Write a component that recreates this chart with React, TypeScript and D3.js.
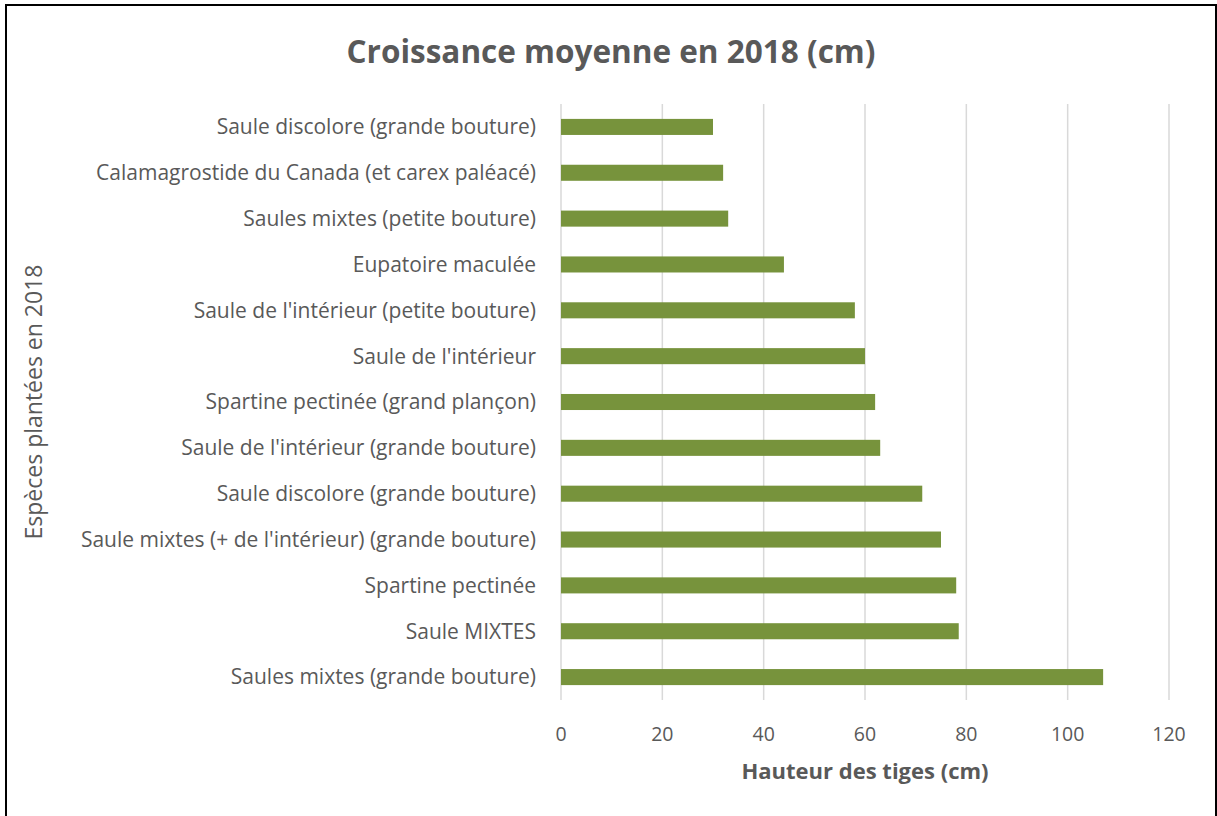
import { useEffect, useRef } from 'react';
import * as d3 from 'd3';

// categories from top to bottom, as shown
const species = [
  "Saule discolore (grande bouture)",
  "Calamagrostide du Canada (et carex paléacé)",
  "Saules mixtes (petite bouture)",
  "Eupatoire maculée",
  "Saule de l'intérieur (petite bouture)",
  "Saule de l'intérieur",
  "Spartine pectinée (grand plançon)",
  "Saule de l'intérieur (grande bouture)",
  "Saule discolore (grande bouture) ",
  "Saule mixtes (+ de l'intérieur) (grande bouture)",
  "Spartine pectinée",
  "Saule MIXTES ",
  "Saules mixtes (grande bouture)",
];
const growth = [30, 32, 33, 44, 58, 60, 62, 63, 71.3, 75, 78, 78.5, 107];
const xTicks = [0, 20, 40, 60, 80, 100, 120];

const W = 1217, H = 816;
const FONT = '"Open Sans", sans-serif';
const TEXT = '#595959';

const App = () => {
  const ref = useRef<SVGSVGElement>(null);

  useEffect(() => {
    const svg = d3.select(ref.current);
    svg.selectAll('*').remove();

    const margin = { top: 104, left: 561, right: 48, bottom: 116 };
    const x = d3.scaleLinear().domain([0, 120]).range([margin.left, W - margin.right]);
    const y = d3.scaleBand<string>().domain(species).range([margin.top, H - margin.bottom]).paddingInner(0.65).paddingOuter(0.325);

    // outer frame
    svg.append('rect')
      .attr('x', 6).attr('y', 5).attr('width', 1210).attr('height', 830)
      .attr('fill', 'white').attr('stroke', '#000').attr('stroke-width', 2);

    // title
    svg.append('text')
      .attr('x', 611).attr('y', 63)
      .attr('text-anchor', 'middle')
      .attr('font-family', FONT).attr('font-weight', 'bold').attr('font-size', 31.5)
      .attr('fill', TEXT)
      .text('Croissance moyenne en 2018 (cm)');

    // gridlines
    svg.append('g').selectAll('line').data(xTicks).join('line')
      .attr('x1', d => x(d)).attr('x2', d => x(d))
      .attr('y1', margin.top).attr('y2', H - margin.bottom)
      .attr('stroke', '#d9d9d9').attr('stroke-width', 1.5);

    // bars
    svg.append('g').selectAll('rect').data(growth).join('rect')
      .attr('x', x(0))
      .attr('y', (d, i) => y(species[i]) as number)
      .attr('width', d => x(d) - x(0))
      .attr('height', y.bandwidth())
      .attr('fill', '#77933C');

    // category labels
    svg.append('g').selectAll('text').data(species).join('text')
      .attr('x', margin.left - 25)
      .attr('y', d => (y(d) as number) + y.bandwidth() / 2)
      .attr('dy', '0.35em')
      .attr('text-anchor', 'end')
      .attr('font-family', FONT).attr('font-size', 21)
      .attr('fill', TEXT)
      .text(d => d.trim());

    // x tick labels
    svg.append('g').selectAll('text').data(xTicks).join('text')
      .attr('x', d => x(d)).attr('y', 741)
      .attr('text-anchor', 'middle')
      .attr('font-family', FONT).attr('font-size', 19.5)
      .attr('fill', TEXT)
      .text(d => d);

    // axis titles
    svg.append('text')
      .attr('x', (x(0) + x(120)) / 2).attr('y', 779)
      .attr('text-anchor', 'middle')
      .attr('font-family', FONT).attr('font-weight', 'bold').attr('font-size', 22)
      .attr('fill', TEXT)
      .text('Hauteur des tiges (cm)');

    svg.append('text')
      .attr('transform', 'translate(42,402) rotate(-90)')
      .attr('text-anchor', 'middle')
      .attr('font-family', FONT).attr('font-size', 23)
      .attr('fill', TEXT)
      .text('Espèces plantées en 2018');
  }, []);

  return (
    <svg ref={ref} width={W} height={H}
      style={{ position: 'absolute', left: 0, top: 0, background: 'white' }} />
  );
};

export default App;
